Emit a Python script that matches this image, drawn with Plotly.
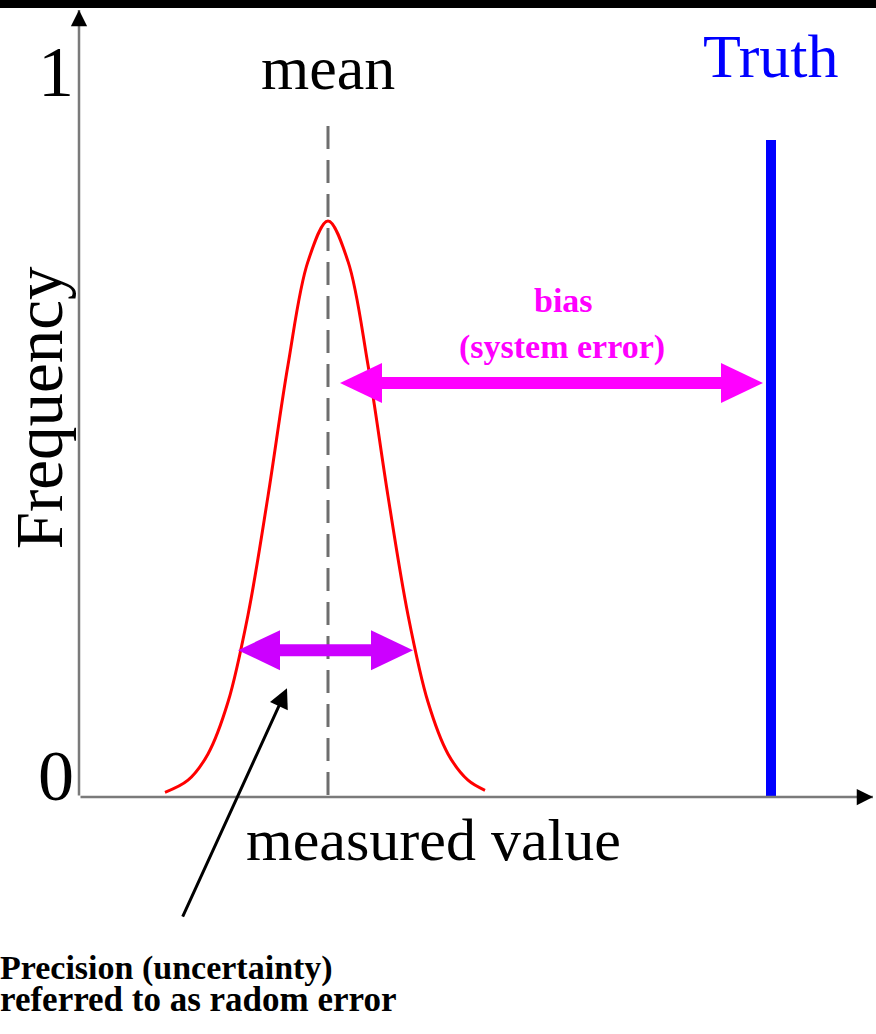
import plotly.graph_objects as go

# ---------------- data ----------------
mean_value = 2.49          # position of the mean on the measured-value axis
truth_value = 6.92         # position of the true value
truth_height = 0.9125      # height of the "Truth" bar
mean_line_top = 0.932      # top of the dashed mean line

curve_x = [0.86, 1.09, 1.29, 1.49, 1.69, 1.89, 2.09, 2.29, 2.49,
           2.69, 2.89, 3.09, 3.29, 3.49, 3.69, 3.89, 4.06]
curve_freq = [0.0067, 0.0235, 0.060, 0.132, 0.253, 0.418, 0.600, 0.744, 0.800,
              0.744, 0.600, 0.418, 0.253, 0.132, 0.060, 0.0235, 0.0095]

bias_left = 2.61           # bias arrow spans mean -> truth
bias_right = 6.84
bias_level = 0.575
precision_left = 1.59      # precision arrow spans the width of the curve
precision_right = 3.34
precision_level = 0.204

y_ticks = [0, 1]
y_tick_labels = ["0", "1"]

# ---------------- layout constants ----------------
W, H = 876, 1034
X_RANGE = [-0.79, 7.97]
Y_RANGE = [-0.329, 1.107]
PX = W / (X_RANGE[1] - X_RANGE[0])   # pixels per x unit
PY = H / (Y_RANGE[1] - Y_RANGE[0])   # pixels per y unit
SERIF = "Liberation Serif, Times New Roman, serif"

fig = go.Figure()

# Gaussian-like frequency curve
fig.add_trace(go.Scatter(x=curve_x, y=curve_freq, mode="lines",
                         line=dict(color="#ff0000", width=3, shape="spline"),
                         hoverinfo="skip", showlegend=False))

# mean (dashed, drawn top-down so it starts with a dash) and truth (blue) lines
fig.add_trace(go.Scatter(x=[mean_value, mean_value], y=[mean_line_top, 0], mode="lines",
                         line=dict(color="#6e6e6e", width=3, dash="23px,11px"),
                         hoverinfo="skip", showlegend=False))
fig.add_trace(go.Scatter(x=[truth_value, truth_value], y=[0, truth_height], mode="lines",
                         line=dict(color="#0000ff", width=10),
                         hoverinfo="skip", showlegend=False))

shapes = []
# black bar at the very top
shapes.append(dict(type="rect", xref="paper", yref="paper", x0=0, x1=1,
                   y0=1 - 8 / H, y1=1, fillcolor="black", line=dict(width=0), layer="above"))


def double_arrow(x0, x1, y, color, shaft_px=12, head_len_px=42, head_half_px=20):
    L = head_len_px / PX
    hh = head_half_px / PY
    sh = shaft_px / 2 / PY
    out = [dict(type="rect", x0=x0 + L * 0.9, x1=x1 - L * 0.9, y0=y - sh, y1=y + sh,
                fillcolor=color, line=dict(width=0))]
    out.append(dict(type="path",
                    path=f"M {x0},{y} L {x0 + L},{y + hh} L {x0 + L},{y - hh} Z",
                    fillcolor=color, line=dict(width=0)))
    out.append(dict(type="path",
                    path=f"M {x1},{y} L {x1 - L},{y + hh} L {x1 - L},{y - hh} Z",
                    fillcolor=color, line=dict(width=0)))
    return out


shapes += double_arrow(bias_left, bias_right, bias_level, "#ff00ff")
shapes += double_arrow(precision_left, precision_right, precision_level, "#cc00ff")

annotations = []
# axes drawn as arrows (gray shaft, small black head)
x_tip = X_RANGE[1] - 3 / PX
y_tip = Y_RANGE[1] - 10 / PY
annotations.append(dict(x=x_tip, y=0, ax=0, ay=0, xref="x", yref="y", axref="x", ayref="y",
                        showarrow=True, arrowhead=0, arrowwidth=2.5,
                        arrowcolor="#7a7a7a", text=""))
annotations.append(dict(x=0, y=y_tip, ax=0, ay=0, xref="x", yref="y", axref="x", ayref="y",
                        showarrow=True, arrowhead=0, arrowwidth=2.5,
                        arrowcolor="#7a7a7a", text=""))
annotations.append(dict(x=x_tip, y=0, ax=x_tip - 14 / PX, ay=0, xref="x", yref="y",
                        axref="x", ayref="y", showarrow=True, arrowhead=2, arrowsize=1.3,
                        arrowwidth=2.5, arrowcolor="black", text=""))
annotations.append(dict(x=0, y=y_tip, ax=0, ay=y_tip - 14 / PY, xref="x", yref="y",
                        axref="x", ayref="y", showarrow=True, arrowhead=2, arrowsize=1.3,
                        arrowwidth=2.5, arrowcolor="black", text=""))

# y tick labels
for v, lab in zip(y_ticks, y_tick_labels):
    annotations.append(dict(x=-0.23, y=v + (0.03 if v == 0 else 0.007), xref="x", yref="y",
                            text=lab, showarrow=False, xanchor="center", yanchor="middle",
                            font=dict(family=SERIF, size=72, color="black")))

annotations += [
    dict(x=mean_value, y=1.012, xref="x", yref="y", text="mean", showarrow=False,
         xanchor="center", yanchor="middle", font=dict(family=SERIF, size=62, color="black")),
    dict(x=truth_value, y=1.029, xref="x", yref="y", text="Truth", showarrow=False,
         xanchor="center", yanchor="middle", font=dict(family=SERIF, size=62, color="#0000ff")),
    dict(x=3.54, y=-0.06, xref="x", yref="y", text="measured value", showarrow=False,
         xanchor="center", yanchor="middle", font=dict(family=SERIF, size=60, color="black")),
    dict(x=-0.40, y=0.54, xref="x", yref="y", text="Frequency", showarrow=False, textangle=-90,
         xanchor="center", yanchor="middle", font=dict(family=SERIF, size=67, color="black")),
    dict(x=4.84, y=0.69, xref="x", yref="y", text="<b>bias</b>", showarrow=False,
         xanchor="center", yanchor="middle", font=dict(family=SERIF, size=34, color="#ff00ff")),
    dict(x=4.83, y=0.625, xref="x", yref="y", text="<b>(system error)</b>", showarrow=False,
         xanchor="center", yanchor="middle", font=dict(family=SERIF, size=34, color="#ff00ff")),
    dict(x=0, y=-0.238, xref="paper", yref="y", text="<b>Precision (uncertainty)</b>",
         showarrow=False, xanchor="left", yanchor="middle", xshift=-2,
         font=dict(family=SERIF, size=34, color="black")),
    dict(x=0, y=-0.281, xref="paper", yref="y", text="<b>referred to as radom error</b>",
         showarrow=False, xanchor="left", yanchor="middle", xshift=-2,
         font=dict(family=SERIF, size=35, color="black")),
    # pointer arrow from the caption to the precision arrow
    dict(x=2.08, y=0.151, ax=1.03, ay=-0.168, xref="x", yref="y", axref="x", ayref="y",
         showarrow=True, arrowhead=2, arrowsize=1.3, arrowwidth=3, arrowcolor="black", text=""),
]

fig.update_layout(
    width=W, height=H, margin=dict(l=0, r=0, t=0, b=0),
    paper_bgcolor="white", plot_bgcolor="white",
    xaxis=dict(range=X_RANGE, visible=False, fixedrange=True),
    yaxis=dict(range=Y_RANGE, visible=False, fixedrange=True),
    shapes=shapes, annotations=annotations, showlegend=False,
)

fig.write_html("out.html", config={"displayModeBar": False},
               post_script="document.body.style.margin='0';document.body.style.overflow='hidden';")
